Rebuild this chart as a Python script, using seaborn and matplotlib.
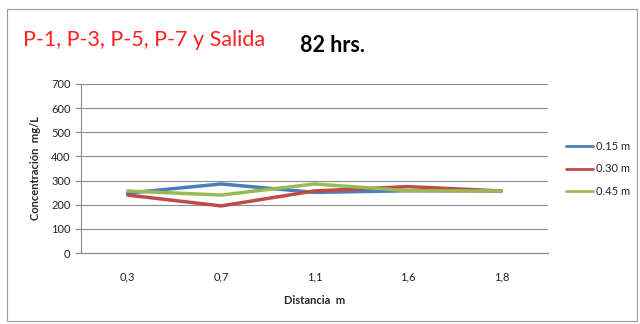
import matplotlib
matplotlib.use("Agg")
import matplotlib.pyplot as plt
from matplotlib.patches import Rectangle
import seaborn as sns
import pandas as pd

distancias = ["0,3", "0,7", "1,1", "1,6", "1,8"]
serie_015 = [248, 286, 251, 258, 257]
serie_030 = [240, 195, 257, 275, 257]
serie_045 = [257, 240, 286, 258, 257]
series = ["0.15 m", "0.30 m", "0.45 m"]
colores = ["#4a7ebb", "#be4b48", "#98b954"]

rows = []
for nombre, valores in zip(series, [serie_015, serie_030, serie_045]):
    for i, (d, v) in enumerate(zip(distancias, valores)):
        rows.append({"pos": i, "dist": d, "valor": v, "serie": nombre})
df = pd.DataFrame(rows)

sns.set_theme(style="white")
plt.rcParams["font.family"] = ["Lato", "DejaVu Sans"]

fig = plt.figure(figsize=(6.4, 3.24), dpi=100)
ax = fig.add_axes([81 / 640, 1 - 253 / 324, (548 - 81) / 640, (253 - 84) / 324])

sns.lineplot(data=df, x="pos", y="valor", hue="serie", palette=colores,
             linewidth=2.5, ax=ax, legend=False, sort=False)

ax.set_xlim(-0.5, 4.5)
ax.set_ylim(0, 700)
ax.set_yticks(range(0, 701, 100))
ax.set_xticks(range(5))
ax.set_xticklabels(distancias)
ax.set_xticks([i - 0.5 for i in range(6)], minor=True)
ax.tick_params(axis="x", which="major", length=0, labelsize=8, pad=13, colors="#222222")
ax.tick_params(axis="x", which="minor", length=4, width=0.8, color="#888888", direction="out")
ax.tick_params(axis="y", length=4, width=0.8, color="#888888", direction="out", labelsize=8,
               colors="#222222", left=True)
ax.yaxis.grid(True, color="#8c8c8c", linewidth=0.8)
ax.xaxis.grid(False)
for s in ["top", "right"]:
    ax.spines[s].set_visible(False)
for s in ["left", "bottom"]:
    ax.spines[s].set_color("#888888")
    ax.spines[s].set_linewidth(0.8)

ax.set_xlabel("Distancia  m", fontsize=8, fontweight="bold", labelpad=9)
ax.set_ylabel("Concentración  mg/L", fontsize=8, fontweight="bold", labelpad=7)

# legend on the right
handles = [plt.Line2D([], [], color=c, linewidth=2) for c in colores]
fig.legend(handles, series, loc="center left", bbox_to_anchor=(566 / 640, 1 - 169 / 324),
           frameon=False, fontsize=8, handlelength=2.4, labelspacing=1.05, handletextpad=0.3,
           borderpad=0, borderaxespad=0)

# titles
fig.text(23 / 640, 1 - 46 / 324, "P-1, P-3, P-5, P-7 y Salida", color="#ff2020",
         fontsize=15.5, va="baseline", ha="left")
fig.text(300 / 640, 1 - 52 / 324, "82 hrs.", color="black", fontsize=15.5,
         fontweight="bold", va="baseline", ha="left")

# chart frame
fig.patches.append(Rectangle((7 / 640, 3 / 324), 630 / 640, 312 / 324, transform=fig.transFigure,
                             fill=False, edgecolor="#9a9a9a", linewidth=0.8))

fig.savefig("out.png", dpi=100)
